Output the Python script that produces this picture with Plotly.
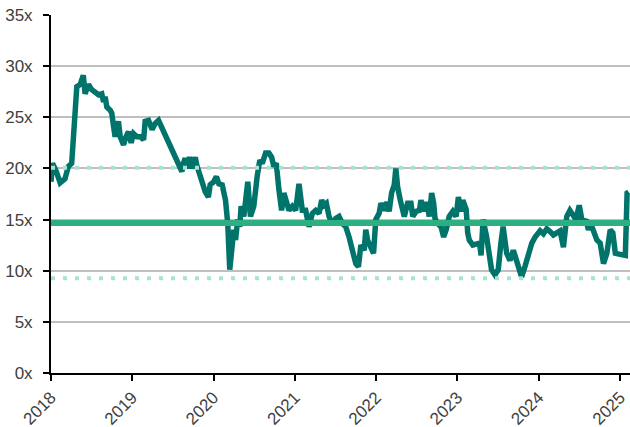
import plotly.graph_objects as go

dates = [
    "2018-01-01", "2018-01-08", "2018-01-23", "2018-02-11", "2018-03-05", "2018-03-20",
    "2018-04-04", "2018-04-27", "2018-05-12", "2018-05-26", "2018-06-03", "2018-06-18",
    "2018-07-03", "2018-07-18", "2018-08-02", "2018-08-17", "2018-08-25", "2018-09-01",
    "2018-09-09", "2018-09-24", "2018-10-01", "2018-10-09", "2018-10-16", "2018-10-31",
    "2018-11-08", "2018-11-23", "2018-11-30", "2018-12-15", "2018-12-27",
    "2019-01-07", "2019-01-22", "2019-02-06", "2019-02-21", "2019-02-28", "2019-03-15",
    "2019-03-31", "2019-04-14", "2019-04-29", "2019-08-12", "2019-08-19", "2019-08-27",
    "2019-09-03", "2019-09-15", "2019-09-26", "2019-10-11", "2019-10-18", "2019-10-30",
    "2019-11-10", "2019-11-25", "2019-12-09", "2019-12-17",
    "2020-01-02", "2020-01-14", "2020-01-25", "2020-02-09", "2020-02-24", "2020-03-05",
    "2020-03-14", "2020-03-25", "2020-04-01", "2020-04-09", "2020-04-19", "2020-04-28",
    "2020-05-04", "2020-05-16", "2020-05-28", "2020-06-03", "2020-06-15", "2020-06-30",
    "2020-07-15", "2020-07-27", "2020-08-07", "2020-08-22", "2020-09-06", "2020-09-18",
    "2020-09-28", "2020-10-09", "2020-10-21", "2020-11-02", "2020-11-12", "2020-11-28",
    "2020-12-05", "2020-12-20",
    "2021-01-04", "2021-01-19", "2021-01-27", "2021-02-03", "2021-02-18", "2021-03-05",
    "2021-03-20", "2021-04-04", "2021-04-19", "2021-05-01", "2021-05-11", "2021-05-22",
    "2021-06-03", "2021-06-18", "2021-07-03", "2021-07-18", "2021-08-02", "2021-08-17",
    "2021-09-01", "2021-09-16", "2021-10-01", "2021-10-13", "2021-10-24", "2021-11-08",
    "2021-11-15", "2021-11-23", "2021-12-08", "2021-12-20", "2021-12-30",
    "2022-01-14", "2022-01-22", "2022-02-06", "2022-02-18", "2022-02-28", "2022-03-11",
    "2022-03-23", "2022-03-30", "2022-04-07", "2022-04-19", "2022-04-30", "2022-05-07",
    "2022-05-22", "2022-06-06", "2022-06-14", "2022-06-29", "2022-07-14", "2022-07-21",
    "2022-08-02", "2022-08-13", "2022-08-20", "2022-08-27", "2022-09-07", "2022-09-16",
    "2022-09-22", "2022-10-04", "2022-10-19", "2022-10-31", "2022-11-11", "2022-11-25",
    "2022-12-11", "2022-12-26",
    "2023-01-05", "2023-01-17", "2023-01-25", "2023-02-09", "2023-02-16", "2023-02-23",
    "2023-03-11", "2023-03-26", "2023-04-10", "2023-04-17", "2023-04-26", "2023-05-12",
    "2023-05-22", "2023-06-03", "2023-06-18", "2023-07-03", "2023-07-15", "2023-07-25",
    "2023-08-10", "2023-08-25", "2023-09-09", "2023-09-24", "2023-10-06", "2023-10-16",
    "2023-10-31", "2023-11-16", "2023-12-01", "2023-12-16",
    "2024-01-07", "2024-01-22", "2024-02-06", "2024-02-22", "2024-03-07", "2024-03-22",
    "2024-04-06", "2024-04-21", "2024-05-06", "2024-05-20", "2024-06-03", "2024-06-16",
    "2024-07-01", "2024-07-16", "2024-08-01", "2024-08-11", "2024-08-22", "2024-09-03",
    "2024-09-18", "2024-10-03", "2024-10-18", "2024-11-02", "2024-11-17", "2024-11-29",
    "2024-12-10",
    "2025-01-01", "2025-01-24", "2025-02-01", "2025-02-08",
]

pe_ratio = [
    18.7, 20.5, 19.8, 18.6, 19.0, 20.2,
    20.5, 28.0, 28.2, 29.1, 27.3, 28.2,
    27.7, 27.5, 27.2, 27.3, 26.5, 27.0,
    26.0, 25.7, 25.4, 24.1, 23.1, 24.6,
    23.1, 22.3, 22.9, 23.6, 22.5,
    23.4, 23.1, 23.1, 22.8, 24.6, 24.7,
    23.8, 24.4, 24.7, 19.7, 20.5, 21.0,
    20.0, 21.1, 20.0, 21.1, 20.3, 19.4,
    18.4, 17.7, 17.2, 18.4,
    18.7, 19.2, 18.5, 18.4, 16.9, 14.6,
    10.1, 13.3, 14.0, 13.0, 15.0, 14.3,
    16.3, 15.3, 17.2, 18.7, 15.3, 16.3,
    19.2, 20.8, 20.5, 21.5, 21.5, 21.1,
    20.2, 20.5, 17.9, 15.9, 17.6, 16.6,
    15.9, 16.3,
    15.9, 18.5, 17.2, 15.9, 15.9, 14.3,
    15.6, 15.9, 15.6, 16.9, 16.4, 16.6,
    15.3, 14.5, 15.1, 15.3, 14.6, 14.3,
    13.3, 12.0, 10.7, 10.4, 12.5, 12.0,
    14.0, 13.0, 12.3, 11.7, 15.0,
    15.6, 16.6, 15.9, 16.7, 15.8, 17.6,
    18.4, 20.0, 18.2, 16.9, 15.8, 15.3,
    16.6, 16.6, 15.3, 15.8, 15.9, 16.9,
    15.8, 16.7, 16.3, 15.3, 17.6, 16.6,
    15.1, 14.6, 14.3, 13.3, 14.0, 15.3,
    15.8, 15.3,
    17.2, 15.8, 16.9, 16.0, 13.7, 13.0,
    12.5, 12.6, 12.7, 11.5, 15.0, 13.3,
    11.4, 10.1, 9.6, 10.1, 12.7, 14.3,
    11.7, 11.0, 12.0, 11.0, 10.4, 9.4,
    10.4, 11.7, 12.7, 13.3,
    13.9, 13.6, 14.1, 13.8, 13.5, 13.7,
    13.9, 12.3, 15.3, 15.9, 15.5, 15.0,
    16.4, 14.6, 15.0, 14.0, 14.6, 13.7,
    13.0, 12.7, 10.7, 11.7, 14.0, 13.7,
    11.7,
    11.6, 11.5, 17.6, 17.7,
]

mean_value = 14.66
upper_band = 20.06
lower_band = 9.26

x_start = "2018-01-01"
x_end = "2025-02-14"
year_ticks = ["2018-01-01", "2019-01-01", "2020-01-01", "2021-01-01",
              "2022-01-01", "2023-01-01", "2024-01-01", "2025-01-01"]
year_labels = ["2018", "2019", "2020", "2021", "2022", "2023", "2024", "2025"]
y_ticks = [0, 5, 10, 15, 20, 25, 30, 35]
y_labels = ["0x", "5x", "10x", "15x", "20x", "25x", "30x", "35x"]

fig = go.Figure()

fig.add_trace(go.Scatter(
    x=dates, y=pe_ratio, mode="lines",
    line=dict(color="#00746B", width=5.5),
    showlegend=False, hoverinfo="skip",
))

fig.add_trace(go.Scatter(
    x=[x_start, x_end], y=[mean_value, mean_value], mode="lines",
    line=dict(color="#2DAF82", width=6),
    showlegend=False, hoverinfo="skip",
))

for band in (upper_band, lower_band):
    fig.add_trace(go.Scatter(
        x=[x_start, x_end], y=[band, band], mode="lines",
        line=dict(color="#A6E3D1", width=4, dash="4px,8px"),
        showlegend=False, hoverinfo="skip",
    ))

fig.update_layout(
    width=630, height=427,
    margin=dict(l=51, r=0, t=15, b=54, autoexpand=False),
    paper_bgcolor="white", plot_bgcolor="white",
    font=dict(family="Liberation Sans, Arial, sans-serif", size=17, color="#404040"),
    showlegend=False,
)

fig.update_xaxes(
    type="date", range=[x_start, x_end], automargin=False,
    tickvals=year_ticks, ticktext=year_labels, tickangle=-45,
    showgrid=False, zeroline=False,
    showline=True, linecolor="black", linewidth=2,
    ticks="outside", ticklen=6, tickwidth=2, tickcolor="black",
)

fig.update_yaxes(
    range=[0, 35], automargin=False,
    tickvals=y_ticks, ticktext=y_labels, ticklabelstandoff=7,
    showgrid=True, gridcolor="#BFBFBF", gridwidth=2,
    zeroline=False,
    showline=True, linecolor="black", linewidth=2,
    ticks="outside", ticklen=6, tickwidth=2, tickcolor="black",
)

fig.write_html(
    "out.html",
    config={"displayModeBar": False},
    post_script="document.body.style.margin='0';document.body.style.overflow='hidden';",
)
